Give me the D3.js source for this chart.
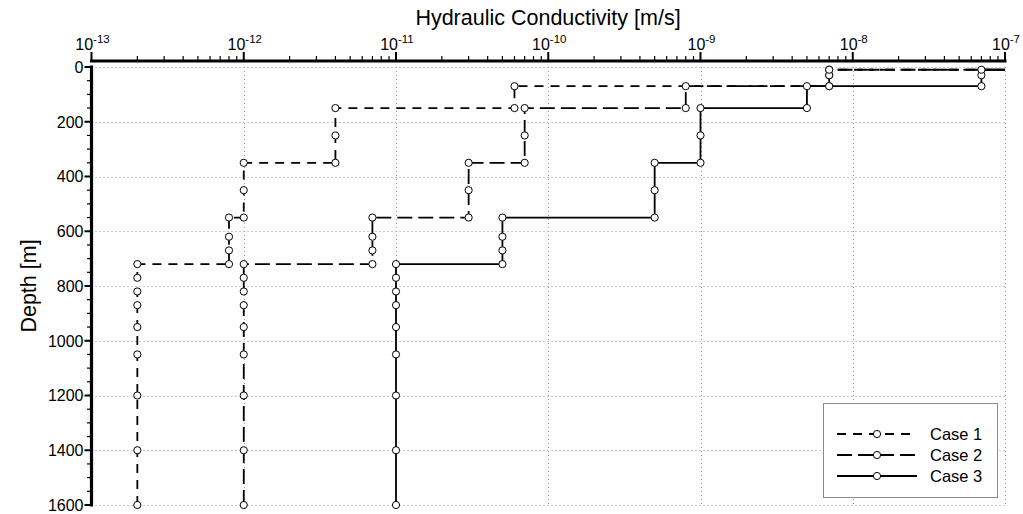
<!DOCTYPE html>
<html>
<head>
<meta charset="utf-8">
<script src="https://cdn.jsdelivr.net/npm/d3@7"></script>
<style>
  html, body { margin: 0; padding: 0; background: #fff; }
  svg { display: block; font-family: "Liberation Sans", Arial, Helvetica, sans-serif; }
</style>
</head>
<body>
<svg id="chart" width="1023" height="514"></svg>
<script>
// Hydraulic conductivity profiles with depth (step profiles, node markers)
const seriesNames = ["Case 1", "Case 2", "Case 3"];

// Case 1 nodes, from bottom to surface
const case1Depth = [1600, 1400, 1200, 1050, 950, 870, 820, 770, 720,
                    720, 670, 620, 550,
                    550, 450, 350,
                    350, 250, 150,
                    150, 70,
                    70, 30, 10,
                    10];
const case1K = [2e-13, 2e-13, 2e-13, 2e-13, 2e-13, 2e-13, 2e-13, 2e-13, 2e-13,
                8e-13, 8e-13, 8e-13, 8e-13,
                1e-12, 1e-12, 1e-12,
                4e-12, 4e-12, 4e-12,
                6e-11, 6e-11,
                7e-9, 7e-9, 7e-9,
                1e-6];

// Case 2 nodes
const case2Depth = [1600, 1400, 1200, 1050, 950, 870, 820, 770, 720,
                    720, 670, 620, 550,
                    550, 450, 350,
                    350, 250, 150,
                    150, 70,
                    70, 30, 10,
                    10];
const case2K = [1e-12, 1e-12, 1e-12, 1e-12, 1e-12, 1e-12, 1e-12, 1e-12, 1e-12,
                7e-12, 7e-12, 7e-12, 7e-12,
                3e-11, 3e-11, 3e-11,
                7e-11, 7e-11, 7e-11,
                8e-10, 8e-10,
                7e-9, 7e-9, 7e-9,
                1e-6];

// Case 3 nodes
const case3Depth = [1600, 1400, 1200, 1050, 950, 870, 820, 770, 720,
                    720, 670, 620, 550,
                    550, 450, 350,
                    350, 250, 150,
                    150, 70,
                    70, 30, 10,
                    10];
const case3K = [1e-11, 1e-11, 1e-11, 1e-11, 1e-11, 1e-11, 1e-11, 1e-11, 1e-11,
                5e-11, 5e-11, 5e-11, 5e-11,
                5e-10, 5e-10, 5e-10,
                1e-9, 1e-9, 1e-9,
                5e-9, 5e-9,
                7e-8, 7e-8, 7e-8,
                1e-6];

const xDecades = [-13, -12, -11, -10, -9, -8, -7];
const depthTicks = [0, 200, 400, 600, 800, 1000, 1200, 1400, 1600];

const seriesData = [
  { name: seriesNames[0], depth: case1Depth, k: case1K, dash: "9,7" },
  { name: seriesNames[1], depth: case2Depth, k: case2K, dash: "15,6" },
  { name: seriesNames[2], depth: case3Depth, k: case3K, dash: null }
];

const svg = d3.select("#chart");
const plotL = 91.5, plotR = 1005, plotT = 67, plotB = 505;

const x = d3.scaleLog().domain([1e-13, 1e-7]).range([plotL, plotR]);
const y = d3.scaleLinear().domain([0, 1600]).range([plotT, plotB]);

// clip region for lines
svg.append("defs").append("clipPath").attr("id", "plotClip")
  .append("rect").attr("x", plotL).attr("y", 50).attr("width", plotR - plotL).attr("height", 470);

// grid
const grid = svg.append("g").attr("stroke", "#9a9a9a").attr("stroke-width", 1)
  .attr("stroke-dasharray", "1,3").attr("fill", "none");
xDecades.slice(1).forEach(d => {
  const px = Math.round(x(Math.pow(10, d))) + 0.5;
  grid.append("line").attr("x1", px).attr("x2", px).attr("y1", plotT).attr("y2", plotB);
});
depthTicks.forEach(d => {
  const py = Math.round(y(d)) + 0.5;
  grid.append("line").attr("x1", plotL).attr("x2", plotR).attr("y1", py).attr("y2", py);
});

// data lines
const line = d3.line().x(d => x(d[1])).y(d => y(d[0]));
const linesG = svg.append("g").attr("clip-path", "url(#plotClip)");
seriesData.forEach(s => {
  const pts = s.depth.map((dv, i) => [dv, s.k[i]]);
  linesG.append("path")
    .attr("d", line(pts))
    .attr("fill", "none")
    .attr("stroke", "#000")
    .attr("stroke-width", 1.8)
    .attr("stroke-dasharray", s.dash);
});

// markers
const markG = svg.append("g").attr("clip-path", "url(#plotClip)");
seriesData.forEach(s => {
  const pts = s.depth.map((dv, i) => [dv, s.k[i]]);
  markG.selectAll(null).data(pts).enter().append("circle")
    .attr("cx", d => x(d[1])).attr("cy", d => y(d[0])).attr("r", 3.6)
    .attr("fill", "#fff").attr("stroke", "#000").attr("stroke-width", 1);
});

// top axis (log scale, decade labels)
const axTopY = 61;
const topAxis = svg.append("g").attr("transform", `translate(0,${axTopY})`);
const minorVals = [];
xDecades.slice(0, -1).forEach(d => {
  for (let m = 2; m <= 9; m++) minorVals.push(m * Math.pow(10, d));
});
topAxis.selectAll(".minor").data(minorVals).enter().append("line")
  .attr("x1", d => x(d)).attr("x2", d => x(d)).attr("y1", 0).attr("y2", -5)
  .attr("stroke", "#000").attr("stroke-width", 1.2);
const majorVals = xDecades.map(d => Math.pow(10, d));
topAxis.selectAll(".major").data(majorVals).enter().append("line")
  .attr("x1", d => x(d)).attr("x2", d => x(d)).attr("y1", 0).attr("y2", -9)
  .attr("stroke", "#000").attr("stroke-width", 2);
topAxis.append("line").attr("x1", plotL - 1.5).attr("x2", plotR + 1.5)
  .attr("y1", 0).attr("y2", 0).attr("stroke", "#000").attr("stroke-width", 3.2);
const lbl = topAxis.selectAll(".lbl").data(xDecades).enter().append("text")
  .attr("x", d => x(Math.pow(10, d)) + 1).attr("y", -11)
  .attr("text-anchor", "middle").attr("font-size", 16).attr("fill", "#000");
lbl.append("tspan").text("10");
lbl.append("tspan").attr("dy", -7).attr("font-size", 11.5).text(d => "-" + Math.abs(d));

// left axis (depth)
const leftAxis = svg.append("g");
const minorDepth = d3.range(0, 1601, 50).filter(v => v % 200 !== 0);
leftAxis.selectAll(".minor").data(minorDepth).enter().append("line")
  .attr("x1", plotL - 4.5).attr("x2", plotL).attr("y1", d => y(d)).attr("y2", d => y(d))
  .attr("stroke", "#000").attr("stroke-width", 1.2);
leftAxis.selectAll(".major").data(depthTicks).enter().append("line")
  .attr("x1", plotL - 7).attr("x2", plotL).attr("y1", d => y(d)).attr("y2", d => y(d))
  .attr("stroke", "#000").attr("stroke-width", 2);
leftAxis.append("line").attr("x1", plotL).attr("x2", plotL)
  .attr("y1", plotT - 1.5).attr("y2", plotB + 1.5).attr("stroke", "#000").attr("stroke-width", 3.2);
leftAxis.selectAll(".lbl").data(depthTicks).enter().append("text")
  .attr("x", plotL - 8).attr("y", d => y(d)).attr("dy", "0.36em")
  .attr("text-anchor", "end").attr("font-size", 16).attr("fill", "#000")
  .text(d => d);

// axis titles
svg.append("text").attr("x", 548).attr("y", 25).attr("text-anchor", "middle")
  .attr("font-size", 21.5).attr("fill", "#000").text("Hydraulic Conductivity [m/s]");
svg.append("text").attr("transform", "translate(36,286) rotate(-90)")
  .attr("text-anchor", "middle").attr("font-size", 21.5).attr("fill", "#000").text("Depth [m]");

// legend
const lg = svg.append("g");
lg.append("rect").attr("x", 823.5).attr("y", 403.5).attr("width", 174).attr("height", 94)
  .attr("fill", "#fff").attr("stroke", "#8a8a8a").attr("stroke-width", 1);
seriesData.forEach((s, i) => {
  const ly = 434 + i * 21;
  lg.append("line").attr("x1", 837).attr("x2", 917).attr("y1", ly).attr("y2", ly)
    .attr("stroke", "#000").attr("stroke-width", 1.8).attr("stroke-dasharray", s.dash);
  lg.append("circle").attr("cx", 877).attr("cy", ly).attr("r", 3.6)
    .attr("fill", "#fff").attr("stroke", "#000").attr("stroke-width", 1);
  lg.append("text").attr("x", 930).attr("y", ly).attr("dy", "0.36em")
    .attr("font-size", 16.5).attr("fill", "#000").text(s.name);
});
</script>
</body>
</html>
